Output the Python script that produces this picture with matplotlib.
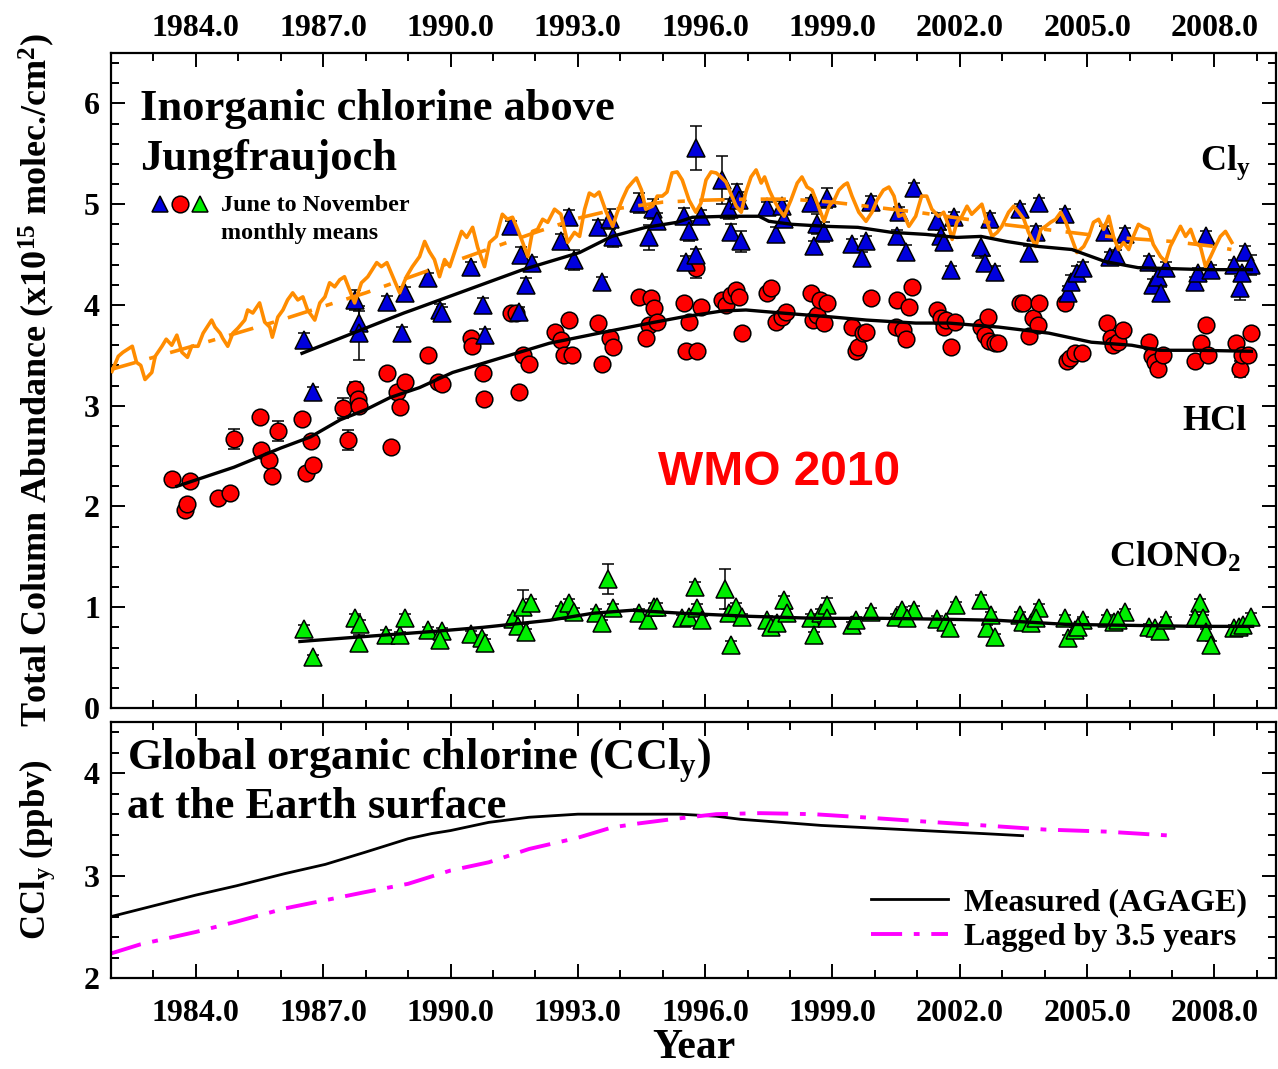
import numpy as np
import matplotlib
matplotlib.use("Agg")
import matplotlib.pyplot as plt
from matplotlib.ticker import MultipleLocator, FixedLocator, FormatStrFormatter

plt.rcParams['font.family'] = ['Liberation Serif', 'DejaVu Serif']
plt.rcParams['font.weight'] = 'bold'
plt.rcParams['mathtext.fontset'] = 'custom'
plt.rcParams['mathtext.rm'] = 'Liberation Serif:bold'
plt.rcParams['mathtext.it'] = 'Liberation Serif:bold'
plt.rcParams['mathtext.bf'] = 'Liberation Serif:bold'

# ---- Cly (blue triangles): year, value, error ----
cly_year = [1986.55, 1986.75, 1987.74, 1987.84, 1987.84, 1988.5, 1988.85, 1988.92, 1989.46, 1989.74,
            1989.79, 1990.47, 1990.76, 1990.8, 1991.43, 1991.62, 1991.67, 1991.78, 1991.93, 1992.6,
            1992.8, 1992.92, 1993.47, 1993.58, 1993.75, 1993.82, 1994.45, 1994.68, 1994.76, 1994.87,
            1995.5, 1995.62, 1995.78, 1995.55, 1995.78, 1995.9, 1996.4, 1996.6, 1996.55, 1996.75,
            1996.85, 1996.8, 1997.46, 1997.67, 1997.8, 1997.86, 1998.5, 1998.57, 1998.64, 1998.86,
            1998.8, 1999.46, 1999.7, 1999.8, 1999.9, 2000.52, 2000.57, 2000.74, 2000.92, 2001.46,
            2001.55, 2001.62, 2001.8, 2001.86, 2002.5, 2002.6, 2002.72, 2002.84, 2003.43, 2003.62,
            2003.86, 2003.79, 2004.49, 2004.56, 2004.63, 2004.75, 2004.9, 2005.43, 2005.55, 2005.67,
            2005.9, 2006.45, 2006.56, 2006.68, 2006.75, 2006.87, 2007.55, 2007.62, 2007.8, 2007.91,
            2008.45, 2008.6, 2008.73, 2008.87, 2008.66]
cly_val = [3.65, 3.14, 4.05, 3.82, 3.72, 4.03, 3.72, 4.12, 4.27, 3.95,
           3.92, 4.38, 4.00, 3.70, 4.78, 3.93, 4.50, 4.20, 4.42, 4.63,
           4.87, 4.45, 4.77, 4.23, 4.85, 4.67, 5.01, 4.67, 4.95, 4.83,
           4.88, 4.73, 5.56, 4.43, 4.50, 4.88, 5.24, 4.72, 4.95, 5.12,
           4.63, 5.04, 4.97, 4.70, 4.98, 4.85, 5.01, 4.58, 4.80, 5.06,
           4.72, 4.60, 4.47, 4.63, 5.02, 4.68, 4.92, 4.53, 5.16, 4.83,
           4.68, 4.62, 4.35, 4.87, 4.57, 4.42, 4.85, 4.33, 4.95, 4.52,
           5.01, 4.72, 4.90, 4.12, 4.23, 4.32, 4.37, 4.72, 4.48, 4.50,
           4.70, 4.43, 4.20, 4.28, 4.12, 4.37, 4.23, 4.32, 4.68, 4.35,
           4.40, 4.17, 4.53, 4.40, 4.32]
cly_err = [0.07, 0.05, 0.10, 0.12, 0.27, 0.06, 0.06, 0.06, 0.05, 0.06,
           0.06, 0.05, 0.07, 0.06, 0.05, 0.05, 0.07, 0.07, 0.06, 0.07,
           0.07, 0.10, 0.07, 0.05, 0.10, 0.10, 0.10, 0.12, 0.10, 0.08,
           0.08, 0.10, 0.22, 0.06, 0.06, 0.06, 0.24, 0.08, 0.10, 0.08,
           0.10, 0.08, 0.05, 0.07, 0.05, 0.07, 0.05, 0.05, 0.10, 0.10,
           0.10, 0.05, 0.06, 0.05, 0.06, 0.06, 0.05, 0.06, 0.05, 0.08,
           0.06, 0.06, 0.04, 0.05, 0.10, 0.07, 0.06, 0.06, 0.05, 0.06,
           0.05, 0.06, 0.05, 0.07, 0.07, 0.07, 0.06, 0.06, 0.05, 0.05,
           0.06, 0.06, 0.06, 0.06, 0.06, 0.06, 0.05, 0.05, 0.05, 0.05,
           0.05, 0.12, 0.05, 0.10, 0.05]

# ---- HCl (red circles) ----
hcl_year = [1983.43, 1983.74, 1983.8, 1983.87, 1984.52, 1984.8, 1984.9, 1985.5, 1985.53, 1985.72,
            1985.8, 1985.93, 1986.5, 1986.6, 1986.7, 1986.77, 1987.46, 1987.58, 1987.74, 1987.82,
            1987.84, 1988.5, 1988.6, 1988.73, 1988.82, 1988.92, 1989.46, 1989.7, 1989.79, 1990.47,
            1990.5, 1990.76, 1990.78, 1991.43, 1991.55, 1991.62, 1991.7, 1991.85, 1992.45, 1992.6,
            1992.68, 1992.8, 1992.87, 1993.47, 1993.58, 1993.75, 1993.82, 1994.45, 1994.68, 1994.6,
            1994.72, 1994.8, 1994.87, 1995.5, 1995.62, 1995.55, 1995.78, 1995.8, 1995.9, 1996.4,
            1996.5, 1996.6, 1996.72, 1996.8, 1996.87, 1997.46, 1997.55, 1997.67, 1997.8, 1997.9,
            1998.5, 1998.55, 1998.64, 1998.7, 1998.8, 1998.86, 1999.46, 1999.55, 1999.6, 1999.72,
            1999.8, 1999.9, 2000.5, 2000.52, 2000.65, 2000.74, 2000.8, 2000.87, 2001.46, 2001.55,
            2001.62, 2001.68, 2001.8, 2001.88, 2002.5, 2002.6, 2002.66, 2002.68, 2002.84, 2002.9,
            2003.43, 2003.5, 2003.62, 2003.72, 2003.84, 2003.86, 2004.49, 2004.52, 2004.6, 2004.72,
            2004.88, 2005.47, 2005.57, 2005.62, 2005.73, 2005.85, 2006.45, 2006.52, 2006.6, 2006.68,
            2006.8, 2007.55, 2007.68, 2007.8, 2007.86, 2008.5, 2008.6, 2008.66, 2008.8, 2008.87]
hcl_val = [2.27, 1.96, 2.02, 2.25, 2.08, 2.13, 2.67, 2.89, 2.56, 2.46,
           2.30, 2.75, 2.87, 2.33, 2.65, 2.41, 2.98, 2.66, 3.17, 3.07,
           3.00, 3.32, 2.59, 3.14, 2.99, 3.24, 3.50, 3.24, 3.22, 3.67,
           3.59, 3.32, 3.07, 3.92, 3.92, 3.14, 3.50, 3.41, 3.73, 3.65,
           3.50, 3.85, 3.50, 3.82, 3.41, 3.67, 3.58, 4.08, 3.80, 3.67,
           4.07, 3.97, 3.83, 4.02, 3.83, 3.54, 4.37, 3.54, 3.98, 4.05,
           4.00, 4.10, 4.15, 4.08, 3.72, 4.12, 4.17, 3.83, 3.88, 3.93,
           4.12, 3.85, 3.90, 4.05, 3.82, 4.02, 3.78, 3.54, 3.58, 3.72,
           3.73, 4.07, 3.78, 4.05, 3.75, 3.66, 3.98, 4.18, 3.95, 3.87,
           3.78, 3.85, 3.58, 3.83, 3.78, 3.70, 3.88, 3.64, 3.62, 3.62,
           4.02, 4.02, 3.69, 3.87, 3.80, 4.02, 4.02, 3.44, 3.47, 3.52,
           3.52, 3.82, 3.67, 3.60, 3.63, 3.75, 3.63, 3.49, 3.43, 3.36,
           3.50, 3.44, 3.62, 3.80, 3.50, 3.62, 3.36, 3.50, 3.50, 3.72]
hcl_err = [0.03, 0.03, 0.03, 0.03, 0.03, 0.03, 0.10, 0.03, 0.03, 0.03,
           0.03, 0.10, 0.03, 0.05, 0.03, 0.03, 0.10, 0.10, 0.07, 0.07,
           0.07, 0.03, 0.05, 0.03, 0.03, 0.03, 0.03, 0.03, 0.03, 0.03,
           0.03, 0.03, 0.03, 0.03, 0.03, 0.03, 0.03, 0.03, 0.03, 0.03,
           0.03, 0.03, 0.03, 0.03, 0.03, 0.03, 0.03, 0.03, 0.03, 0.03,
           0.03, 0.03, 0.03, 0.03, 0.03, 0.03, 0.10, 0.03, 0.03, 0.03,
           0.03, 0.03, 0.03, 0.03, 0.03, 0.03, 0.03, 0.03, 0.03, 0.03,
           0.03, 0.03, 0.03, 0.03, 0.03, 0.03, 0.03, 0.03, 0.03, 0.03,
           0.03, 0.03, 0.03, 0.03, 0.03, 0.03, 0.03, 0.03, 0.03, 0.03,
           0.03, 0.03, 0.03, 0.03, 0.03, 0.03, 0.03, 0.03, 0.03, 0.03,
           0.03, 0.03, 0.03, 0.03, 0.03, 0.03, 0.03, 0.03, 0.03, 0.03,
           0.03, 0.03, 0.03, 0.03, 0.03, 0.03, 0.03, 0.03, 0.03, 0.03,
           0.03, 0.03, 0.03, 0.03, 0.03, 0.03, 0.08, 0.03, 0.03, 0.03]

# ---- ClONO2 (green triangles) ----
clono2_year = [1986.55, 1986.77, 1987.74, 1987.86, 1987.84, 1988.47, 1988.82, 1988.92, 1989.46, 1989.79,
               1989.74, 1990.47, 1990.73, 1990.8, 1991.46, 1991.7, 1991.9, 1991.6, 1991.78, 1992.6,
               1992.8, 1992.92, 1993.43, 1993.58, 1993.72, 1993.82, 1994.45, 1994.65, 1994.8, 1994.87,
               1995.46, 1995.62, 1995.76, 1995.8, 1995.93, 1996.47, 1996.6, 1996.56, 1996.72, 1996.87,
               1997.46, 1997.55, 1997.7, 1997.85, 1997.93, 1998.5, 1998.57, 1998.74, 1998.88, 1998.86,
               1999.46, 1999.55, 1999.9, 2000.5, 2000.64, 2000.92, 2000.76, 2001.46, 2001.67, 2001.78,
               2001.9, 2002.5, 2002.64, 2002.84, 2002.74, 2003.43, 2003.5, 2003.67, 2003.86, 2003.8,
               2004.49, 2004.56, 2004.72, 2004.9, 2004.78, 2005.47, 2005.63, 2005.9, 2005.73, 2006.45,
               2006.6, 2006.72, 2006.87, 2007.65, 2007.55, 2007.74, 2007.79, 2007.91, 2008.45, 2008.57,
               2008.68, 2008.87]
clono2_val = [0.78, 0.51, 0.89, 0.83, 0.65, 0.72, 0.72, 0.89, 0.77, 0.76,
              0.67, 0.73, 0.69, 0.65, 0.88, 1.00, 1.04, 0.81, 0.75, 0.97,
              1.04, 0.95, 0.94, 0.84, 1.28, 0.99, 0.94, 0.87, 1.00, 1.00,
              0.89, 0.90, 1.20, 0.99, 0.87, 1.18, 0.63, 0.94, 1.00, 0.90,
              0.87, 0.80, 0.84, 1.07, 0.94, 0.89, 0.72, 0.94, 1.02, 0.89,
              0.82, 0.87, 0.95, 0.90, 0.97, 0.97, 0.89, 0.88, 0.85, 0.79,
              1.02, 1.07, 0.79, 0.70, 0.92, 0.92, 0.85, 0.84, 0.99, 0.89,
              0.89, 0.69, 0.77, 0.87, 0.80, 0.89, 0.85, 0.95, 0.87, 0.80,
              0.79, 0.76, 0.87, 1.04, 0.89, 0.89, 0.75, 0.63, 0.79, 0.80,
              0.82, 0.90]
clono2_err = [0.04, 0.02, 0.04, 0.04, 0.07, 0.05, 0.03, 0.04, 0.03, 0.03,
              0.03, 0.03, 0.03, 0.03, 0.04, 0.17, 0.04, 0.03, 0.03, 0.04,
              0.04, 0.04, 0.04, 0.03, 0.15, 0.04, 0.04, 0.04, 0.04, 0.04,
              0.03, 0.03, 0.05, 0.04, 0.04, 0.20, 0.03, 0.04, 0.04, 0.03,
              0.04, 0.03, 0.03, 0.04, 0.04, 0.04, 0.03, 0.04, 0.07, 0.07,
              0.03, 0.03, 0.04, 0.03, 0.03, 0.04, 0.03, 0.03, 0.03, 0.03,
              0.03, 0.05, 0.03, 0.03, 0.03, 0.03, 0.03, 0.03, 0.04, 0.03,
              0.03, 0.03, 0.03, 0.03, 0.03, 0.03, 0.03, 0.03, 0.03, 0.03,
              0.03, 0.03, 0.03, 0.04, 0.03, 0.03, 0.03, 0.03, 0.03, 0.03,
              0.03, 0.04]

# ---- smooth fits (black lines) ----
cly_fit_year = [1986.5, 1988.9, 1989.1, 1991.7, 1993.04, 1993.8, 1994.6, 1995.34, 1995.7, 1996.5,
                1997.27, 1997.5, 1998.05, 1998.85, 1999.6, 2000.4, 2001.2, 2001.93, 2002.5, 2003.1,
                2003.86, 2004.64, 2005.43, 2006.2, 2007.0, 2007.8, 2008.87]
cly_fit_val = [3.52, 3.92, 3.95, 4.35, 4.52, 4.68, 4.77, 4.82, 4.87, 4.88,
               4.88, 4.83, 4.80, 4.78, 4.77, 4.72, 4.70, 4.67, 4.68, 4.63,
               4.58, 4.55, 4.43, 4.37, 4.36, 4.35, 4.35]
hcl_fit_year = [1983.55, 1984.9, 1986.0, 1986.7, 1987.4, 1988.0, 1988.57, 1989.27, 1990.05, 1992.33,
                1993.5, 1994.7, 1995.46, 1996.4, 1996.96, 1997.8, 1999.0, 1999.8, 2000.96, 2001.74,
                2002.92, 2004.1, 2005.1, 2006.05, 2006.7, 2007.6, 2008.87]
hcl_fit_val = [2.20, 2.39, 2.58, 2.69, 2.86, 2.96, 3.08, 3.18, 3.33, 3.62,
               3.72, 3.82, 3.88, 3.94, 3.95, 3.92, 3.88, 3.85, 3.82, 3.82,
               3.78, 3.72, 3.63, 3.60, 3.55, 3.55, 3.54]
clono2_fit_year = [1986.45, 1988.0, 1989.6, 1990.75, 1992.33, 1993.35, 1994.28, 1995.46, 1997.04, 1998.6,
                   2000.17, 2001.74, 2002.9, 2004.5, 2006.05, 2007.6, 2008.9]
clono2_fit_val = [0.66, 0.71, 0.76, 0.80, 0.87, 0.94, 0.97, 0.94, 0.91, 0.89,
                  0.89, 0.88, 0.87, 0.83, 0.82, 0.81, 0.81]

# ---- orange monthly line and its dashed fit ----
orange_year = [1982.02, 1982.17, 1982.28, 1982.5, 1982.6, 1982.7, 1982.8, 1982.96, 1983.04, 1983.2,
               1983.3, 1983.43, 1983.55, 1983.67, 1983.8, 1983.9, 1984.05, 1984.17, 1984.37, 1984.45,
               1984.57, 1984.63, 1984.75, 1984.87, 1984.99, 1985.15, 1985.22, 1985.34, 1985.5, 1985.62,
               1985.74, 1985.8, 1985.93, 1986.05, 1986.16, 1986.28, 1986.4, 1986.52, 1986.63, 1986.8,
               1986.92, 1987.04, 1987.15, 1987.27, 1987.39, 1987.5, 1987.62, 1987.74, 1987.9, 1988.05,
               1988.26, 1988.37, 1988.5, 1988.64, 1988.8, 1988.96, 1989.1, 1989.27, 1989.39, 1989.5,
               1989.62, 1989.74, 1989.86, 1989.98, 1990.14, 1990.26, 1990.38, 1990.52, 1990.64, 1990.8,
               1990.92, 1991.08, 1991.22, 1991.34, 1991.46, 1991.58, 1991.7, 1991.82, 1991.93, 1992.05,
               1992.17, 1992.29, 1992.45, 1992.6, 1992.76, 1992.92, 1993.04, 1993.16, 1993.27, 1993.39,
               1993.5, 1993.67, 1993.82, 1993.93, 1994.05, 1994.17, 1994.29, 1994.38, 1994.5, 1994.6,
               1994.76, 1994.87, 1994.99, 1995.1, 1995.22, 1995.34, 1995.46, 1995.62, 1995.78, 1995.9,
               1996.02, 1996.14, 1996.26, 1996.37, 1996.49, 1996.6, 1996.73, 1996.85, 1996.96, 1997.08,
               1997.2, 1997.32, 1997.4, 1997.51, 1997.62, 1997.74, 1997.86, 1998.02, 1998.17, 1998.28,
               1998.4, 1998.52, 1998.64, 1998.8, 1998.92, 1999.04, 1999.15, 1999.27, 1999.35, 1999.46,
               1999.62, 1999.79, 1999.93, 2000.05, 2000.2, 2000.33, 2000.45, 2000.56, 2000.68, 2000.8,
               2000.96, 2001.1, 2001.22, 2001.34, 2001.5, 2001.62, 2001.74, 2001.82, 2001.93, 2002.05,
               2002.17, 2002.28, 2002.4, 2002.52, 2002.64, 2002.76, 2002.88, 2002.99, 2003.15, 2003.27,
               2003.39, 2003.51, 2003.62, 2003.79, 2003.91, 2004.02, 2004.14, 2004.26, 2004.38, 2004.5,
               2004.62, 2004.76, 2004.92, 2005.04, 2005.15, 2005.27, 2005.39, 2005.51, 2005.62, 2005.74,
               2005.86, 2005.98, 2006.09, 2006.21, 2006.33, 2006.45, 2006.56, 2006.73, 2006.85, 2006.96,
               2007.08, 2007.2, 2007.32, 2007.44, 2007.55, 2007.67, 2007.79, 2007.91, 2008.02, 2008.14,
               2008.26, 2008.41]
orange_val = [3.34, 3.49, 3.53, 3.59, 3.43, 3.40, 3.26, 3.33, 3.49, 3.59,
              3.66, 3.60, 3.70, 3.53, 3.48, 3.59, 3.59, 3.72, 3.85, 3.78,
              3.72, 3.67, 3.59, 3.72, 3.77, 3.85, 3.95, 3.92, 4.02, 3.83,
              3.78, 3.68, 3.88, 3.95, 4.05, 4.12, 4.05, 4.08, 3.95, 3.85,
              4.02, 4.08, 4.22, 4.18, 4.25, 4.28, 4.15, 4.02, 4.22, 4.28,
              4.42, 4.38, 4.42, 4.28, 4.12, 4.28, 4.38, 4.48, 4.63, 4.53,
              4.45, 4.28, 4.45, 4.38, 4.58, 4.73, 4.67, 4.77, 4.57, 4.38,
              4.62, 4.68, 4.90, 4.85, 4.87, 4.75, 4.62, 4.48, 4.73, 4.75,
              4.85, 4.82, 4.95, 4.90, 4.62, 4.72, 4.68, 4.95, 5.11, 5.08,
              5.12, 4.92, 4.78, 4.92, 5.05, 5.16, 5.22, 5.26, 5.14, 4.95,
              4.98, 5.08, 5.08, 5.12, 5.31, 5.32, 5.24, 5.04, 4.92, 5.01,
              5.24, 5.32, 5.31, 5.27, 5.22, 5.11, 4.98, 4.92, 5.12, 5.27,
              5.34, 5.21, 5.27, 5.14, 5.04, 4.95, 4.88, 5.04, 5.21, 5.27,
              5.17, 5.14, 5.01, 4.83, 4.98, 5.04, 5.14, 5.19, 5.21, 5.08,
              4.92, 4.83, 4.92, 5.04, 5.14, 5.17, 5.08, 4.88, 4.90, 4.78,
              4.88, 5.08, 5.08, 4.95, 4.88, 4.92, 4.78, 4.65, 4.82, 4.88,
              4.98, 4.90, 4.95, 5.00, 4.82, 4.68, 4.72, 4.78, 4.92, 4.98,
              4.92, 4.85, 4.72, 4.58, 4.75, 4.78, 4.82, 4.85, 4.92, 4.82,
              4.68, 4.52, 4.58, 4.68, 4.82, 4.85, 4.75, 4.88, 4.68, 4.55,
              4.62, 4.55, 4.68, 4.80, 4.77, 4.75, 4.60, 4.48, 4.43, 4.58,
              4.68, 4.78, 4.68, 4.75, 4.62, 4.58, 4.38, 4.48, 4.58, 4.68,
              4.73, 4.62]
orange_fit_year = [1982.0, 1984.0, 1986.0, 1988.0, 1990.0, 1992.0, 1993.0, 1994.0, 1995.0, 1996.0,
                   1997.0, 1998.0, 1999.0, 2000.0, 2001.0, 2002.0, 2003.0, 2004.0, 2005.0, 2006.0,
                   2007.0, 2008.0, 2008.4]
orange_fit_val = [3.36, 3.60, 3.85, 4.12, 4.42, 4.72, 4.86, 4.96, 5.02, 5.04,
                  5.05, 5.05, 5.02, 4.97, 4.92, 4.86, 4.80, 4.75, 4.70, 4.66,
                  4.63, 4.58, 4.55]

# ---- lower panel: organic chlorine ----
agage_year = [1982.0, 1984.0, 1984.95, 1986.1, 1987.05, 1988.0, 1989.0, 1989.55, 1990.0, 1990.9,
              1991.85, 1993.0, 1994.4, 1995.4, 1996.26, 1996.83, 1997.8, 1998.74, 1999.7, 2000.65,
              2001.6, 2002.57, 2003.48]
agage_val = [2.60, 2.81, 2.90, 3.02, 3.11, 3.23, 3.36, 3.41, 3.44, 3.52,
             3.57, 3.60, 3.60, 3.60, 3.58, 3.55, 3.52, 3.49, 3.47, 3.45,
             3.43, 3.41, 3.39]
lagged_year = [1982.0, 1982.7, 1984.0, 1984.95, 1986.1, 1987.05, 1988.0, 1989.0, 1990.0, 1990.9,
               1991.85, 1993.0, 1993.8, 1994.44, 1995.2, 1996.26, 1997.3, 1998.55, 1999.7, 2001.1,
               2002.57, 2004.0, 2005.43, 2007.0]
lagged_val = [2.24, 2.33, 2.45, 2.55, 2.68, 2.76, 2.84, 2.92, 3.05, 3.13,
              3.26, 3.37, 3.47, 3.51, 3.55, 3.60, 3.61, 3.60, 3.57, 3.53,
              3.49, 3.45, 3.43, 3.39]

year_ticks = np.arange(1984, 2009, 3)

fig = plt.figure(figsize=(12.78, 10.69), dpi=100)
ax1 = fig.add_axes([0.0869, 0.3377, 0.9115, 0.6127])
ax2 = fig.add_axes([0.0869, 0.0851, 0.9115, 0.2395])

TICK_FS = 23


def style_axes(ax):
    ax.set_xlim(1982, 2009.45)
    ax.xaxis.set_major_locator(FixedLocator(year_ticks))
    ax.xaxis.set_minor_locator(MultipleLocator(1))
    ax.xaxis.set_major_formatter(FormatStrFormatter('%.1f'))
    ax.tick_params(which='both', direction='in', top=True, right=True, width=1.4,
                   labelsize=TICK_FS)
    ax.tick_params(which='major', length=10)
    ax.tick_params(which='minor', length=5.5)
    for sp in ax.spines.values():
        sp.set_linewidth(1.6)
    for lab in ax.get_xticklabels() + ax.get_yticklabels():
        lab.set_fontweight('bold')


# ---------- top panel ----------
style_axes(ax1)
ax1.set_ylim(0, 6.5)
ax1.yaxis.set_major_locator(MultipleLocator(1))
ax1.yaxis.set_minor_locator(MultipleLocator(0.2))
ax1.tick_params(axis='x', labeltop=True, labelbottom=False, pad=7)
ax1.tick_params(axis='y', pad=8)

mk = dict(mec='black', mew=1.1, ecolor='black', elinewidth=1.1,
          capsize=4.5, capthick=1.1, ls='none', zorder=3)
ax1.errorbar(clono2_year, clono2_val, yerr=clono2_err, fmt='^', ms=12.5, mfc='#00ee00', **mk)
ax1.errorbar(hcl_year, hcl_val, yerr=hcl_err, fmt='o', ms=12, mfc='#ff0000', **mk)
ax1.errorbar(cly_year, cly_val, yerr=cly_err, fmt='^', ms=12.5, mfc='#0000dd', **mk)

ax1.plot(orange_year, orange_val, color='#ff8c00', lw=2.6, zorder=4)
ax1.plot(orange_fit_year, orange_fit_val, color='#ff8c00', lw=2.6,
         ls=(0, (7, 4, 2, 4)), zorder=4)
ax1.plot(cly_fit_year, cly_fit_val, color='black', lw=2.4, zorder=5)
ax1.plot(hcl_fit_year, hcl_fit_val, color='black', lw=2.4, zorder=5)
ax1.plot(clono2_fit_year, clono2_fit_val, color='black', lw=2.4, zorder=5)

ax1.text(1982.68, 5.84, 'Inorganic chlorine above', fontsize=32, fontweight='bold')
ax1.text(1982.68, 5.34, 'Jungfraujoch', fontsize=32, fontweight='bold')

# marker key
for xm, fm, col in [(0.042, '^', '#0000dd'), (0.0592, 'o', '#ff0000'), (0.0763, '^', '#00ee00')]:
    ax1.plot([xm], [0.77], marker=fm, ms=12, mfc=col, mec='black', mew=1.1,
             transform=ax1.transAxes, clip_on=False, zorder=6)
ax1.text(1984.59, 4.93, 'June to November', fontsize=17.3, fontweight='bold')
ax1.text(1984.59, 4.65, 'monthly means', fontsize=17.3, fontweight='bold')

ax1.text(2008.85, 5.34, 'Cl$_{y}$', fontsize=26, ha='right')
ax1.text(2008.75, 2.76, 'HCl', fontsize=26, ha='right', fontweight='bold')
ax1.text(2008.64, 1.40, 'ClONO$_{2}$', fontsize=26, ha='right')
ax1.text(1997.74, 2.21, 'WMO 2010', fontsize=34.5, ha='center', color='#ff0000',
         family='Liberation Sans', fontweight='bold')

ax1.set_ylabel('Total Column Abundance (x10$^{15}$ molec./cm$^{2}$)', fontsize=26,
               fontweight='bold')
ax1.yaxis.set_label_coords(-0.046, 0.5)

# ---------- bottom panel ----------
style_axes(ax2)
ax2.set_ylim(2, 4.5)
ax2.yaxis.set_major_locator(MultipleLocator(1))
ax2.yaxis.set_minor_locator(MultipleLocator(0.2))
ax2.tick_params(axis='x', pad=15)
ax2.tick_params(axis='y', pad=8)

ax2.plot(agage_year, agage_val, color='black', lw=2.0, label='Measured (AGAGE)')
ax2.plot(lagged_year, lagged_val, color='#ff00ff', lw=2.8, ls=(0, (8, 3, 1.5, 3)),
         label='Lagged by 3.5 years')

ax2.text(1982.38, 4.03, 'Global organic chlorine (CCl$_{y}$)', fontsize=32, fontweight='bold')
ax2.text(1982.38, 3.56, 'at the Earth surface', fontsize=32, fontweight='bold')

leg = ax2.legend(loc='lower right', frameon=False, fontsize=23, handlelength=2.4,
                 handletextpad=0.5, borderaxespad=0.4, labelspacing=0.2,
                 bbox_to_anchor=(0.997, 0.0))
for t in leg.get_texts():
    t.set_fontweight('bold')

ax2.set_ylabel('CCl$_{y}$ (ppbv)', fontsize=25, fontweight='bold')
ax2.yaxis.set_label_coords(-0.046, 0.5)
ax2.set_xlabel('Year', fontsize=30, fontweight='bold', labelpad=1)

fig.savefig('out.png', dpi=100)
